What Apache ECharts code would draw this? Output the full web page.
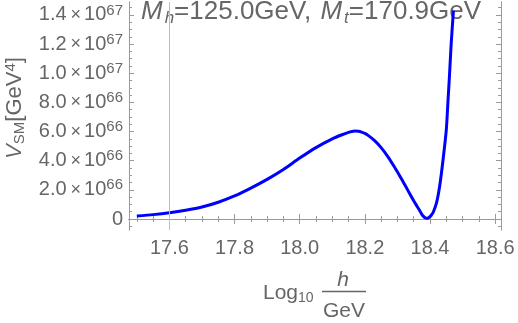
<!DOCTYPE html>
<html><head><meta charset="utf-8">
<script src="https://cdn.jsdelivr.net/npm/echarts@6/dist/echarts.min.js"></script>
<style>html,body{margin:0;padding:0;background:#fff}#c{width:518px;height:323px}</style>
</head><body><div id="c"></div>
<script>
// Data (potential in units of 1e66 GeV^4)
const logH = [17.50,17.55,17.60,17.65,17.70,17.75,17.80,17.85,17.90,17.95,18.00,18.05,18.10,18.13,18.15,18.16,18.17,18.18,18.19,18.20,18.21,18.23,18.25,18.27,18.29,18.31,18.33,18.35,18.36,18.37,18.375,18.38,18.385,18.39,18.395,18.40,18.405,18.41,18.42,18.43,18.44,18.45,18.455,18.46,18.465,18.472];
const vSM_e66 = [0.20,0.30,0.43,0.60,0.82,1.15,1.58,2.12,2.72,3.40,4.18,4.90,5.50,5.78,5.94,6.00,6.03,6.02,5.96,5.87,5.74,5.38,4.90,4.30,3.60,2.85,2.05,1.25,0.88,0.52,0.32,0.18,0.09,0.05,0.08,0.16,0.29,0.46,1.10,2.30,4.05,6.10,8.00,9.90,12.00,14.30];
const xTicks = [17.6,17.8,18.0,18.2,18.4,18.6];
const xTickLabels = ['17.6','17.8','18.0','18.2','18.4','18.6'];
const yTicks = [0,2,4,6,8,10,12,14];
const yTickMant = ['0','2.0','4.0','6.0','8.0','1.0','1.2','1.4'];
const yTickExp = ['','66','66','66','66','67','67','67'];
const titleText = ['M','h','=125.0GeV, ','M','t','=170.9GeV'];

const xMinor = [];
for (let i = 0; i <= 22; i++) { const v = +(17.5 + i*0.05).toFixed(2); if (!xTicks.some(t => Math.abs(t-v) < 1e-6)) xMinor.push(v); }
const yMinor = [];
for (let i = 0; i <= 30; i++) { const v = -0.5 + i*0.5; if (!yTicks.some(t => Math.abs(t-v) < 1e-6)) yMinor.push(v); }

const FONT = 'Liberation Sans, Arial, sans-serif';
const TXT = '#666666';
const FRAME = '#9a9a9a';
const XMIN = 17.476, XMAX = 18.618, YMIN = -0.755, YMAX = 14.89;

function xAx(pos, vals, len, labels) {
  return {type:'value', position:pos, min:XMIN, max:XMAX, gridIndex:0,
    axisLine:{show:true, lineStyle:{color:FRAME, width:1}},
    axisTick:{show:true, inside:true, length:len, customValues:vals, lineStyle:{color:FRAME}},
    axisLabel: labels ? {show:true, customValues:xTicks, margin:8, color:TXT, fontSize:20, fontFamily:FONT,
      formatter: v => { const i = xTicks.findIndex(t => Math.abs(t-v) < 1e-6); return i>=0 ? xTickLabels[i] : ''; }} : {show:false},
    splitLine:{show:false}};
}
function yAx(pos, vals, len, labels) {
  return {type:'value', position:pos, min:YMIN, max:YMAX, gridIndex:0,
    axisLine:{show:true, lineStyle:{color:FRAME, width:1}},
    axisTick:{show:true, inside:true, length:len, customValues:vals, lineStyle:{color:FRAME}},
    axisLabel: labels ? {show:true, customValues:yTicks, margin:6, color:TXT, fontSize:20, fontFamily:FONT, hideOverlap:false,
      formatter: v => { const i = yTicks.findIndex(t => Math.abs(t-v) < 1e-6); if (i<0) return '';
        if (!yTickExp[i]) return '{m|' + yTickMant[i] + '}';
        return '{m|' + yTickMant[i] + '}{x|×}{m|10}{e|' + yTickExp[i] + '}'; },
      rich:{ m:{fontSize:20, fontFamily:FONT, color:TXT, lineHeight:24},
             x:{fontSize:18, fontFamily:FONT, color:TXT, padding:[0,3,0,4], lineHeight:24},
             e:{fontSize:15, fontFamily:FONT, color:TXT, verticalAlign:'top', lineHeight:14}}} : {show:false},
    splitLine:{show:false}};
}

const chart = echarts.init(document.getElementById('c'), null, {renderer:'canvas'});
chart.setOption({
  animation:false,
  backgroundColor:'#fff',
  grid:{left:129, right:17, top:2, bottom:93, containLabel:false},
  xAxis:[xAx('bottom', xTicks, 5, true), xAx('bottom', xMinor, 3, false), xAx('top', xTicks, 5, false), xAx('top', xMinor, 3, false)],
  yAxis:[yAx('left', yTicks, 5, true), yAx('left', yMinor, 3, false), yAx('right', yTicks, 5, false), yAx('right', yMinor, 3, false)],
  series:[{
    type:'line', xAxisIndex:0, yAxisIndex:0, showSymbol:false, smooth:0.25,
    data: logH.map((x,i) => [x, vSM_e66[i]]),
    lineStyle:{color:'#0000ff', width:3}, clip:true,
    markLine:{silent:true, symbol:'none', label:{show:false}, lineStyle:{color:'#bdbdbd', width:1, type:'solid'},
      data:[{xAxis:17.6}]}
  }],
  graphic:[
    {type:'text', left:141, top:-1, style:{
      text:'{i|'+titleText[0]+'}{s|'+titleText[1]+'}{n|'+titleText[2]+'}{i2|'+titleText[3]+'}{s|'+titleText[4]+'}{n|'+titleText[5]+'}',
      rich:{ i:{fontSize:26, fontStyle:'italic', fontFamily:FONT, fill:TXT, lineHeight:30, padding:[0,2,0,0]},
             i2:{fontSize:26, fontStyle:'italic', fontFamily:FONT, fill:TXT, lineHeight:30, padding:[0,2,0,2]},
             n:{fontSize:26, fontFamily:FONT, fill:TXT, lineHeight:30},
             s:{fontSize:17, fontStyle:'italic', fontFamily:FONT, fill:TXT, verticalAlign:'bottom', lineHeight:14}}}},
    {type:'text', x:15, y:108, rotation:Math.PI/2, style:{
      text:'{v|V}{s|SM}{n|[GeV}{p|4}{n|]}', align:'center', verticalAlign:'middle',
      rich:{ v:{fontSize:22, fontStyle:'italic', fontFamily:FONT, fill:TXT, lineHeight:24},
             n:{fontSize:22, fontFamily:FONT, fill:TXT, lineHeight:24},
             s:{fontSize:15, fontFamily:FONT, fill:TXT, verticalAlign:'bottom', lineHeight:12},
             p:{fontSize:15, fontFamily:FONT, fill:TXT, verticalAlign:'top', lineHeight:12}}}},
    {type:'text', x:263, y:293, style:{text:'Log', fontSize:21, fontFamily:FONT, fill:TXT, align:'left', verticalAlign:'middle'}},
    {type:'text', x:298, y:298, style:{text:'10', fontSize:14, fontFamily:FONT, fill:TXT, align:'left', verticalAlign:'middle'}},
    {type:'text', x:343, y:280, style:{text:'h', fontSize:21, fontStyle:'italic', fontFamily:FONT, fill:TXT, align:'center', verticalAlign:'middle'}},
    {type:'line', shape:{x1:322, y1:291.5, x2:366, y2:291.5}, style:{stroke:TXT, lineWidth:1.3}},
    {type:'text', x:344, y:311, style:{text:'GeV', fontSize:21, fontFamily:FONT, fill:TXT, align:'center', verticalAlign:'middle'}}
  ]
});
</script></body></html>
